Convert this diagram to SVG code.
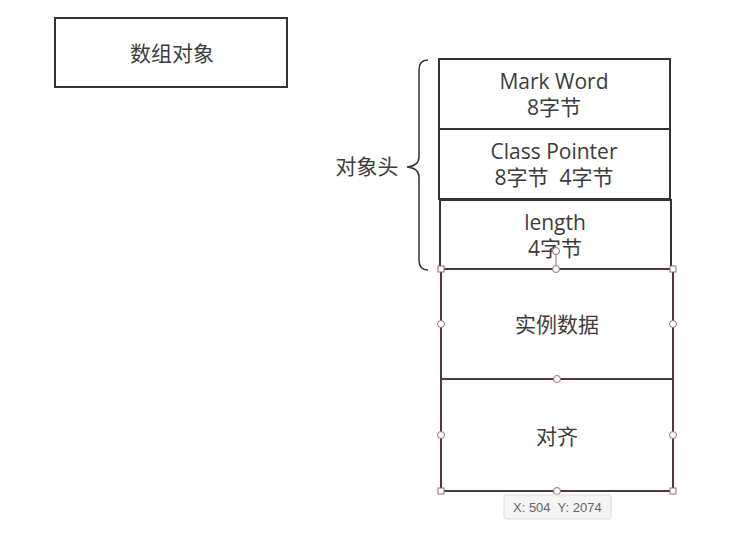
<svg xmlns="http://www.w3.org/2000/svg" width="746" height="548" viewBox="0 0 746 548">
<style>
.box{fill:#fff;stroke:#333;stroke-width:2}
.t{font-family:"Open Sans","Noto Sans CJK SC",sans-serif;font-size:21px;fill:#3c3c3c;text-anchor:middle;white-space:pre}
.sel{fill:none;stroke:#4d3a3e;stroke-width:2}
.h{fill:#fff;stroke:#9a6b75;stroke-width:1}
.tip{font-family:"Liberation Sans",sans-serif;font-size:13px;fill:#666;white-space:pre}
</style>
<rect width="746" height="548" fill="#fff"/>
<g id="array-object">
<rect class="box" x="55" y="18" width="232" height="69"/>
<text class="t" x="172" y="61">数组对象</text>
</g>
<g id="mark-word">
<rect class="box" x="439" y="59" width="231" height="70"/>
<text class="t" x="554" y="89">Mark Word</text>
<text class="t" x="554" y="115">8字节</text>
</g>
<g id="class-pointer">
<rect class="box" x="439" y="129" width="231" height="70"/>
<text class="t" x="554" y="159">Class Pointer</text>
<text class="t" x="554" y="185" xml:space="preserve">8字节  4字节</text>
</g>
<g id="length">
<rect class="box" x="440" y="200" width="231" height="69"/>
<text class="t" x="555" y="230">length</text>
<text class="t" x="555" y="256">4字节</text>
</g>
<g id="instance-data">
<rect class="sel" x="441" y="269" width="232" height="110"/>
<text class="t" x="557" y="332">实例数据</text>
</g>
<g id="padding">
<rect class="sel" x="441" y="379" width="232" height="112"/>
<text class="t" x="557" y="444">对齐</text>
</g>
<g id="object-header-label">
<text class="t" x="367" y="174">对象头</text>
</g>
<g id="connectors">
<path d="M428 60 Q419 60 419 70 L419 157 Q419 166 407 167 Q419 168 419 177 L419 260 Q419 270 428 270" fill="none" stroke="#333" stroke-width="1.5"/>
</g>
<g id="selection-handles">
<line x1="556" y1="251" x2="556" y2="269" stroke="#9a6b75" stroke-width="1"/>
<circle class="h" cx="556" cy="251" r="3.5"/>
<rect class="h" x="438" y="266" width="6" height="6"/>
<rect class="h" x="670" y="266" width="6" height="6"/>
<rect class="h" x="438" y="488" width="6" height="6"/>
<rect class="h" x="670" y="488" width="6" height="6"/>
<circle class="h" cx="556" cy="269" r="3.5"/>
<circle class="h" cx="441" cy="324" r="3.5"/>
<circle class="h" cx="673" cy="324" r="3.5"/>
<circle class="h" cx="557" cy="379" r="3.5"/>
<circle class="h" cx="441" cy="435" r="3.5"/>
<circle class="h" cx="673" cy="435" r="3.5"/>
<circle class="h" cx="557" cy="491" r="3.5"/>
</g>
<g id="tooltip">
<rect x="504" y="495" width="107" height="24" rx="2" fill="#f4f4f4" stroke="#ddd"/>
<text class="tip" x="513" y="512" xml:space="preserve">X: 504  Y: 2074</text>
</g>
</svg>
